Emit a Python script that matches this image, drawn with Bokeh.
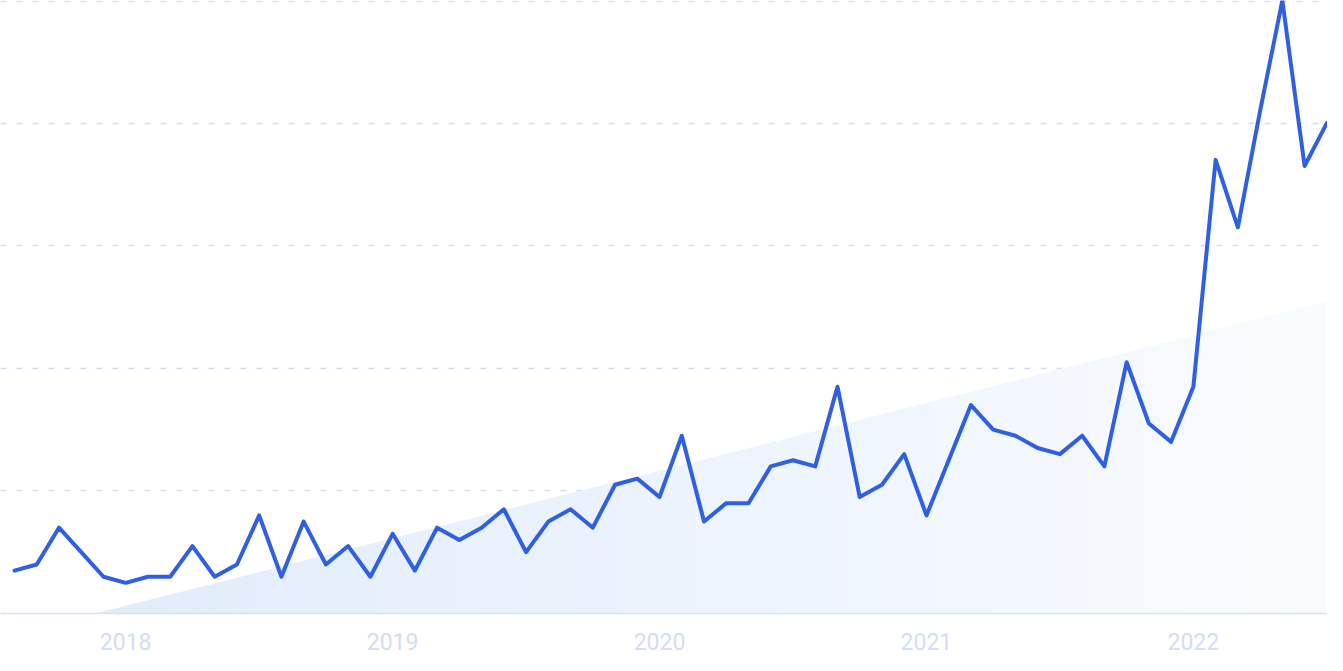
from bokeh.plotting import figure
from bokeh.models import FixedTicker, Range1d, ColumnDataSource
from bokeh.embed import file_html
from bokeh.resources import INLINE

# ---- data (monthly, Aug 2017 .. Jul 2022) ----
months = [
    "2017-08", "2017-09", "2017-10", "2017-11", "2017-12",
    "2018-01", "2018-02", "2018-03", "2018-04", "2018-05", "2018-06",
    "2018-07", "2018-08", "2018-09", "2018-10", "2018-11", "2018-12",
    "2019-01", "2019-02", "2019-03", "2019-04", "2019-05", "2019-06",
    "2019-07", "2019-08", "2019-09", "2019-10", "2019-11", "2019-12",
    "2020-01", "2020-02", "2020-03", "2020-04", "2020-05", "2020-06",
    "2020-07", "2020-08", "2020-09", "2020-10", "2020-11", "2020-12",
    "2021-01", "2021-02", "2021-03", "2021-04", "2021-05", "2021-06",
    "2021-07", "2021-08", "2021-09", "2021-10", "2021-11", "2021-12",
    "2022-01", "2022-02", "2022-03", "2022-04", "2022-05", "2022-06",
    "2022-07",
]
values = [
    7, 8, 14, 10, 6,
    5, 6, 6, 11, 6, 8,
    16, 6, 15, 8, 11, 6,
    13, 7, 14, 12, 14, 17,
    10, 15, 17, 14, 21, 22,
    19, 29, 15, 18, 18, 24,
    25, 24, 37, 19, 21, 26,
    16, 25, 34, 30, 29, 27,
    26, 29, 24, 41, 31, 28,
    37, 74, 63, 82, 100, 73,
    80,
]
tick_labels = ["2018", "2019", "2020", "2021", "2022"]
tick_months = ["2018-01", "2019-01", "2020-01", "2021-01", "2022-01"]
grid_values = [20, 40, 60, 80, 99.9]

idx = list(range(len(values)))
tick_pos = [months.index(m) for m in tick_months]

# decorative trend wedge (starts near month 3.6, rises ~0.92 units per month)
wedge_start = 3.64
wedge_slope = 0.919
wedge_end = 61.0

# ---- figure ----
FW, FH = 1327, 613
p = figure(frame_width=FW, frame_height=FH, output_backend="svg",
           toolbar_location=None, y_axis_location=None,
           min_border_left=0, min_border_right=0, min_border_top=0,
           min_border_bottom=42)
p.x_range = Range1d(-0.629, 59.03)
p.y_range = Range1d(0, 100)
p.outline_line_color = None
p.background_fill_color = "white"
p.border_fill_color = "white"

# gradient wedge as thin strips
n = 90
bg_l = (0xe1, 0xec, 0xfb)
bg_r = (0xfa, 0xfc, 0xff)
xs_list, ys_list, cols = [], [], []
for k in range(n):
    x0 = wedge_start + (wedge_end - wedge_start) * k / n
    x1 = wedge_start + (wedge_end - wedge_start) * (k + 1) / n + 0.02
    y0 = (x0 - wedge_start) * wedge_slope
    y1 = (x1 - wedge_start) * wedge_slope
    t = (k + 0.5) / n
    c = tuple(int(round(a + (b - a) * t)) for a, b in zip(bg_l, bg_r))
    xs_list.append([x0, x1, x1, x0])
    ys_list.append([0, 0, y1, y0])
    cols.append("#%02x%02x%02x" % c)
p.patches(xs=xs_list, ys=ys_list, fill_color=cols, line_color=None)

# grid
p.xgrid.visible = False
p.ygrid.ticker = FixedTicker(ticks=grid_values)
p.ygrid.grid_line_color = "#d3dcf7"
p.ygrid.grid_line_dash = "6 10"
p.ygrid.grid_line_width = 1.3

# line
src = ColumnDataSource(dict(x=idx, y=values))
p.line("x", "y", source=src, line_color="#2f60e4", line_width=4,
       line_join="round", line_cap="round")

# x axis
ax = p.xaxis[0]
ax.ticker = FixedTicker(ticks=tick_pos)
ax.major_label_overrides = {pos: lab for pos, lab in zip(tick_pos, tick_labels)}
ax.major_tick_in = 0
ax.major_tick_out = 0
ax.minor_tick_in = 0
ax.minor_tick_out = 0
ax.axis_line_color = "#d6e2f7"
ax.axis_line_width = 1.5
ax.major_label_standoff = 19
ax.major_label_text_font = "Roboto"
ax.major_label_text_font_size = "23px"
ax.major_label_text_color = "#d3dcf5"

open("out.html", "w").write(file_html(p, INLINE))
